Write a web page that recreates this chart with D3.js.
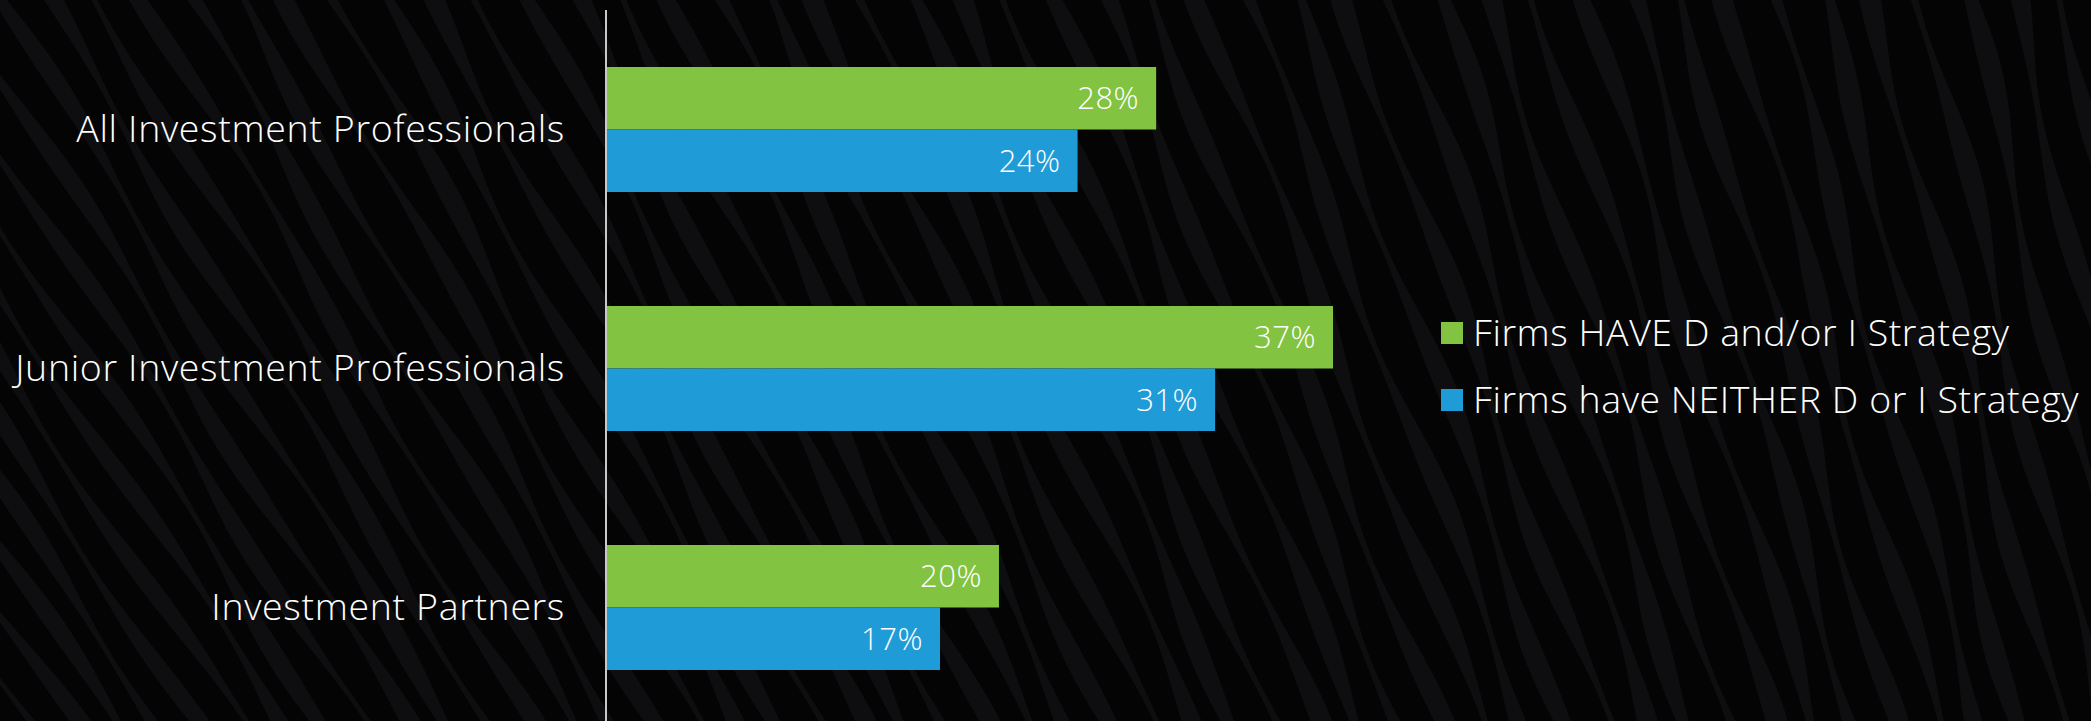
<!DOCTYPE html>
<html>
<head>
<meta charset="utf-8">
<script src="https://cdn.jsdelivr.net/npm/d3@7"></script>
<style>
  html, body { margin: 0; padding: 0; background: #040404; }
  svg { display: block; }
</style>
</head>
<body>
<div id="chart"></div>
<script>
var categories = ['All Investment Professionals', 'Junior Investment Professionals', 'Investment Partners']
var seriesNames = ['Firms HAVE D and/or I Strategy', 'Firms have NEITHER D or I Strategy']
var haveStrategy = [28, 37, 20]
var neitherStrategy = [24, 31, 17]
var seriesColors = ['#82c341', '#1f9bd7']

var svgWidth = 2091
var svgHeight = 721
var axisX = 606

var svg = d3.select('#chart').append('svg')
    .attr('width', svgWidth)
    .attr('height', svgHeight)

svg.append('rect')
    .attr('width', svgWidth)
    .attr('height', svgHeight)
    .attr('fill', '#040404')

// wavy diagonal texture in the background (decoration only)
var stripeLine = d3.line().curve(d3.curveLinearClosed)
var stripes = svg.append('g')
for (var s = -30; s < 48; s++) {
    var base = s * 48
    var slope = Math.max(0.22, 0.62 - 0.4 * base / svgWidth)
    var left = [], right = []
    for (var t = -20; t <= svgHeight + 20; t += 8) {
	var cx = base + t * slope + 6 * Math.sin(t / 70 + s * 1.7)
	var hw = 7 + 4 * Math.sin(t / 45 + s * 2.3)
	left.push([cx - hw, t])
	right.unshift([cx + hw, t])
    }
    stripes.append('path')
	.attr('d', stripeLine(left.concat(right)))
	.attr('fill', '#0e0e10')
}

var x = d3.scaleLinear()
    .domain([0, 37])
    .range([axisX, 1333])

var y = d3.scaleBand()
    .domain(categories)
    .range([10, 727])
    .paddingInner(0.477)
    .paddingOuter(0.2385)

var ySub = d3.scaleBand()
    .domain([0, 1])
    .range([0, y.bandwidth()])

var rows = categories.map(function(c, i) {
    return {cat: c, values: [haveStrategy[i], neitherStrategy[i]]}
})

var groups = svg.selectAll('g.cat')
    .data(rows)
    .enter()
    .append('g')
    .attr('class', 'cat')
    .attr('transform', function(d) {return 'translate(0,' + y(d.cat) + ')';})

groups.selectAll('rect')
    .data(function(d) {return d.values;})
    .enter()
    .append('rect')
    .attr('x', x(0))
    .attr('y', function(d, i) {return ySub(i);})
    .attr('width', function(d) {return x(d) - x(0);})
    .attr('height', ySub.bandwidth())
    .attr('fill', function(d, i) {return seriesColors[i];})

groups.selectAll('text.val')
    .data(function(d) {return d.values;})
    .enter()
    .append('text')
    .attr('class', 'val')
    .attr('x', function(d) {return x(d) - 17;})
    .attr('y', function(d, i) {return ySub(i) + ySub.bandwidth() / 2;})
    .attr('dy', '0.36em')
    .attr('text-anchor', 'end')
    .attr('fill', '#ffffff')
    .style('font-family', '"Open Sans", sans-serif')
    .style('font-weight', 300)
    .style('font-size', '31px')
    .style('letter-spacing', '0.5px')
    .text(function(d) {return d + '%';})

// category axis
var yAxis = svg.append('g')
    .attr('transform', 'translate(' + axisX + ',0)')
    .call(d3.axisLeft(y).tickSize(0).tickPadding(41))
yAxis.select('.domain').remove()
yAxis.selectAll('text')
    .attr('fill', '#ffffff')
    .style('font-family', '"Open Sans", sans-serif')
    .style('font-weight', 300)
    .style('font-size', '37.5px')
    .style('letter-spacing', '0.65px')

svg.append('line')
    .attr('x1', axisX)
    .attr('x2', axisX)
    .attr('y1', 10)
    .attr('y2', svgHeight)
    .attr('stroke', '#c8c8c8')
    .attr('stroke-width', 2)

// legend
var legend = svg.selectAll('g.legend')
    .data(seriesNames)
    .enter()
    .append('g')
    .attr('class', 'legend')
    .attr('transform', function(d, i) {return 'translate(1441,' + (333 + i * 67) + ')';})

legend.append('rect')
    .attr('x', 0)
    .attr('y', -11)
    .attr('width', 22)
    .attr('height', 22)
    .attr('fill', function(d, i) {return seriesColors[i];})

legend.append('text')
    .attr('x', 32)
    .attr('y', 0)
    .attr('dy', '0.35em')
    .attr('fill', '#ffffff')
    .style('font-family', '"Open Sans", sans-serif')
    .style('font-weight', 300)
    .style('font-size', '37.5px')
    .style('letter-spacing', '0.55px')
    .text(function(d) {return d;})
</script>
</body>
</html>
